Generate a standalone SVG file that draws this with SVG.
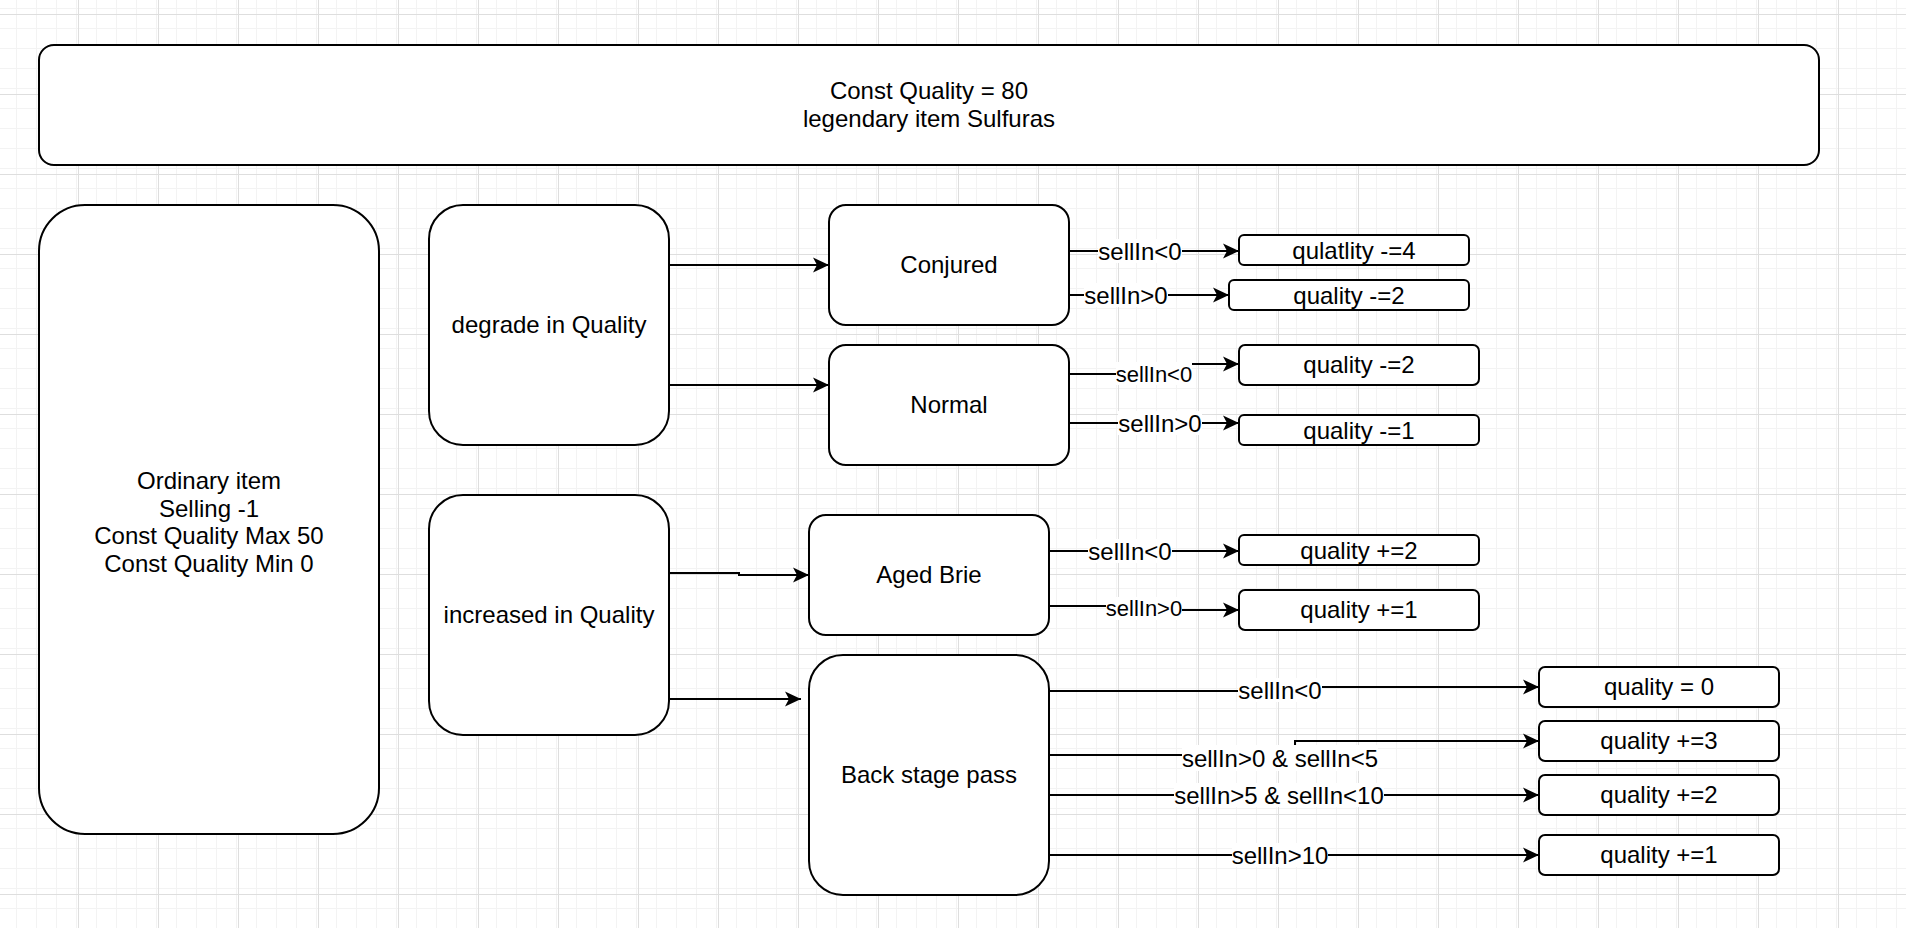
<svg xmlns="http://www.w3.org/2000/svg" width="1906" height="928" viewBox="0 0 1906 928">
<style>
  .node { fill: #ffffff; stroke: #000000; stroke-width: 2; }
  .txt { font-family: "Liberation Sans", Arial, Helvetica, sans-serif; font-size: 24px; fill: #000000; text-anchor: middle; }
  .lbl { font-family: "Liberation Sans", Arial, Helvetica, sans-serif; font-size: 24px; fill: #000000; text-anchor: middle; }
  .lbl22 { font-size: 22px; }
  .edge { fill: none; stroke: #000000; stroke-width: 2; marker-end: url(#arr); }
  .lblbg { fill: #ffffff; }
</style>
<defs>
  <pattern id="minor" x="-2" y="14" width="20" height="20" patternUnits="userSpaceOnUse">
    <path d="M0.5 0 V20 M0 0.5 H20" fill="none" stroke="#f3f3f3" stroke-width="1"/>
  </pattern>
  <pattern id="major" x="-2" y="14" width="80" height="80" patternUnits="userSpaceOnUse">
    <rect width="80" height="80" fill="url(#minor)"/>
    <path d="M0.5 0 V80 M0 0.5 H80" fill="none" stroke="#dedede" stroke-width="1"/>
  </pattern>
  <marker id="arr" viewBox="0 0 16 16" refX="16" refY="8" markerWidth="16" markerHeight="16" orient="auto" markerUnits="userSpaceOnUse">
    <path d="M0,0.5 L16,8 L0,15.5 L4,8 Z" fill="#000000"/>
  </marker>
</defs>
<rect x="0" y="0" width="1906" height="928" fill="#ffffff"/>
<rect x="0" y="0" width="1906" height="928" fill="url(#major)"/>

<g id="connectors">
  <path class="edge" d="M669,265 H829"/>
  <path class="edge" d="M669,385 H829"/>
  <path class="edge" d="M669,573 H739 V575 H809"/>
  <path class="edge" d="M669,699 H801"/>

  <path class="edge" d="M1069,251 H1239"/>
  <path class="edge" d="M1069,295 H1229"/>
  <path class="edge" d="M1069,374 H1154 V364 H1239"/>
  <path class="edge" d="M1069,423 H1239"/>

  <path class="edge" d="M1049,551 H1239"/>
  <path class="edge" d="M1049,606 H1144 V610 H1239"/>

  <path class="edge" d="M1049,691 H1280 V687 H1539"/>
  <path class="edge" d="M1049,755 H1295 V741 H1539"/>
  <path class="edge" d="M1049,795 H1539"/>
  <path class="edge" d="M1049,855 H1539"/>

  <g id="edge-labels">
    <rect class="lblbg" x="1098" y="239" width="84" height="24"/>
    <text class="lbl" x="1140" y="259.5">sellIn&lt;0</text>
    <rect class="lblbg" x="1084" y="283" width="84" height="24"/>
    <text class="lbl" x="1126" y="303.5">sellIn&gt;0</text>
    <rect class="lblbg" x="1116" y="362" width="76" height="23"/>
    <text class="lbl lbl22" x="1154" y="381.5">sellIn&lt;0</text>
    <rect class="lblbg" x="1118" y="411" width="84" height="24"/>
    <text class="lbl" x="1160" y="431.5">sellIn&gt;0</text>

    <rect class="lblbg" x="1088" y="539" width="84" height="24"/>
    <text class="lbl" x="1130" y="559.5">sellIn&lt;0</text>
    <rect class="lblbg" x="1106" y="597" width="76" height="23"/>
    <text class="lbl lbl22" x="1144" y="616">sellIn&gt;0</text>

    <rect class="lblbg" x="1238" y="678" width="84" height="24"/>
    <text class="lbl" x="1280" y="698.5">sellIn&lt;0</text>
    <rect class="lblbg" x="1182" y="745" width="196" height="26"/>
    <text class="lbl" x="1280" y="766.5">sellIn&gt;0 &amp; sellIn&lt;5</text>
    <rect class="lblbg" x="1174" y="783" width="210" height="24"/>
    <text class="lbl" x="1279" y="803.5">sellIn&gt;5 &amp; sellIn&lt;10</text>
    <rect class="lblbg" x="1232" y="843" width="96" height="24"/>
    <text class="lbl" x="1280" y="863.5">sellIn&gt;10</text>
  </g>
</g>

<g id="legendary">
  <rect class="node" x="39" y="45" width="1780" height="120" rx="15" ry="15"/>
  <text class="txt" x="929" y="99">Const Quality = 80</text>
  <text class="txt" x="929" y="127">legendary item Sulfuras</text>
</g>
<g id="ordinary">
  <rect class="node" x="39" y="205" width="340" height="629" rx="46" ry="46"/>
  <text class="txt" x="209" y="489">Ordinary item</text>
  <text class="txt" x="209" y="517">Selling -1</text>
  <text class="txt" x="209" y="544">Const Quality Max 50</text>
  <text class="txt" x="209" y="572">Const Quality Min 0</text>
</g>
<g id="degrade">
  <rect class="node" x="429" y="205" width="240" height="240" rx="34" ry="34"/>
  <text class="txt" x="549" y="333">degrade in Quality</text>
</g>
<g id="increased">
  <rect class="node" x="429" y="495" width="240" height="240" rx="34" ry="34"/>
  <text class="txt" x="549" y="623">increased in Quality</text>
</g>
<g id="conjured">
  <rect class="node" x="829" y="205" width="240" height="120" rx="17" ry="17"/>
  <text class="txt" x="949" y="273">Conjured</text>
</g>
<g id="normal">
  <rect class="node" x="829" y="345" width="240" height="120" rx="17" ry="17"/>
  <text class="txt" x="949" y="413">Normal</text>
</g>
<g id="agedbrie">
  <rect class="node" x="809" y="515" width="240" height="120" rx="17" ry="17"/>
  <text class="txt" x="929" y="583">Aged Brie</text>
</g>
<g id="backstage">
  <rect class="node" x="809" y="655" width="240" height="240" rx="34" ry="34"/>
  <text class="txt" x="929" y="783">Back stage pass</text>
</g>

<g id="conj-lt0">
  <rect class="node" x="1239" y="235" width="230" height="30" rx="5" ry="5"/>
  <text class="txt" x="1354" y="259">qulatlity -=4</text>
</g>
<g id="conj-gt0">
  <rect class="node" x="1229" y="280" width="240" height="30" rx="5" ry="5"/>
  <text class="txt" x="1349" y="304">quality -=2</text>
</g>
<g id="norm-lt0">
  <rect class="node" x="1239" y="345" width="240" height="40" rx="6" ry="6"/>
  <text class="txt" x="1359" y="373">quality -=2</text>
</g>
<g id="norm-gt0">
  <rect class="node" x="1239" y="415" width="240" height="30" rx="5" ry="5"/>
  <text class="txt" x="1359" y="439">quality -=1</text>
</g>
<g id="brie-lt0">
  <rect class="node" x="1239" y="535" width="240" height="30" rx="5" ry="5"/>
  <text class="txt" x="1359" y="559">quality +=2</text>
</g>
<g id="brie-gt0">
  <rect class="node" x="1239" y="590" width="240" height="40" rx="6" ry="6"/>
  <text class="txt" x="1359" y="618">quality +=1</text>
</g>
<g id="bs-lt0">
  <rect class="node" x="1539" y="667" width="240" height="40" rx="6" ry="6"/>
  <text class="txt" x="1659" y="695">quality = 0</text>
</g>
<g id="bs-0-5">
  <rect class="node" x="1539" y="721" width="240" height="40" rx="6" ry="6"/>
  <text class="txt" x="1659" y="749">quality +=3</text>
</g>
<g id="bs-5-10">
  <rect class="node" x="1539" y="775" width="240" height="40" rx="6" ry="6"/>
  <text class="txt" x="1659" y="803">quality +=2</text>
</g>
<g id="bs-gt10">
  <rect class="node" x="1539" y="835" width="240" height="40" rx="6" ry="6"/>
  <text class="txt" x="1659" y="863">quality +=1</text>
</g>
</svg>
